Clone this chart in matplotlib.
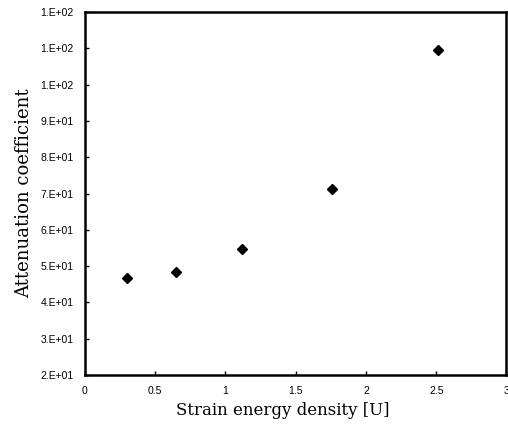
import matplotlib
matplotlib.use('Agg')
import matplotlib.pyplot as plt
from matplotlib.ticker import FuncFormatter

# data
strain_energy = [0.30, 0.65, 1.12, 1.76, 2.51]
attenuation = [46.8, 48.4, 54.7, 71.2, 109.5]

x_ticks = [0, 0.5, 1, 1.5, 2, 2.5, 3]
x_tick_labels = ['0', '0.5', '1', '1.5', '2', '2.5', '3']
y_ticks = [20, 30, 40, 50, 60, 70, 80, 90, 100, 110, 120]


def sci_label(v, pos):
    # excel style "2.E+01" with no digits after the point
    exp = 0
    while v >= 10:
        v /= 10.0
        exp += 1
    return f'{int(v)}.E+{exp:02d}'


fig = plt.figure(figsize=(5.08, 4.34), dpi=100)
ax = fig.add_axes([0.167, 0.136, 0.83, 0.836])

ax.plot(strain_energy, attenuation, linestyle='none', marker='D',
        markersize=5, color='black')

ax.set_xlim(0, 3)
ax.set_ylim(20, 120)
ax.set_xticks(x_ticks)
ax.set_xticklabels(x_tick_labels)
ax.set_yticks(y_ticks)
ax.yaxis.set_major_formatter(FuncFormatter(sci_label))

for sp in ax.spines.values():
    sp.set_linewidth(1.8)
ax.tick_params(direction='in', length=3, width=1, labelsize=7.5, pad=8)
for lbl in ax.get_xticklabels() + ax.get_yticklabels():
    lbl.set_fontfamily('Liberation Sans')

ax.set_xlabel('Strain energy density [U]', fontfamily='DejaVu Serif',
              fontsize=12, labelpad=4)
ax.set_ylabel('Attenuation coefficient', fontfamily='DejaVu Serif',
              fontsize=13, labelpad=5)
ax.xaxis.set_label_coords(0.47, -0.075)

fig.savefig('out.png', dpi=100)
